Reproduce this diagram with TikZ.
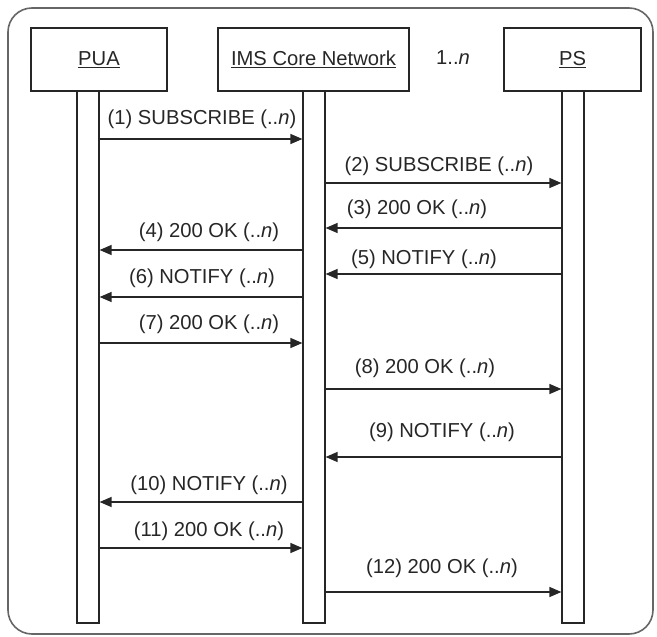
\documentclass[tikz,border=0pt]{standalone}
\usepackage{fontspec}
\setmainfont{Liberation Sans}
\usetikzlibrary{arrows.meta}
\begin{document}
\begin{tikzpicture}[x=1pt,y=-1pt,
  frame/.style={draw=black!60, line width=1.6pt, rounded corners=24pt},
  actor/.style={draw=black!85, line width=1.2pt, minimum height=63pt, inner sep=0pt,
    font=\fontsize{20.2}{23}\selectfont, text=black!85},
  bar/.style={draw=black!85, line width=1.2pt, fill=white, minimum width=22pt,
    minimum height=532pt, inner sep=0pt},
  msg/.style={draw=black!85, line width=1.3pt, -{Triangle[length=12pt,width=10pt]}},
  lbl/.style={font=\fontsize{20.2}{23}\selectfont, text=black!85, inner sep=0pt}
]
\useasboundingbox (0,0) rectangle (657,637);
\draw[frame] (8,8) rectangle (653,634);

% lifeline bars
\node[bar] (puabar) at (88,357) {};
\node[bar] (imsbar) at (314,357) {};
\node[bar] (psbar)  at (573,357) {};

% participants
\node[actor, minimum width=136pt] (pua) at (99,59.5) {\underline{PUA}};
\node[actor, minimum width=191pt] (ims) at (313.5,59.5) {\underline{IMS Core Network}};
\node[actor, minimum width=137pt] (ps)  at (572.5,59.5) {\underline{PS}};
\node[lbl] (mult) at (453,58) {1..\textit{n}};

% message rows
\foreach \name/\y in {m1/139, m2/183, m3/228, m4/250, m5/274, m6/297, m7/343,
                      m8/389, m9/457, m10/502, m11/548, m12/592} {
  \coordinate (\name) at (0,\y);
}

\draw[msg] (puabar.east |- m1) -- (imsbar.west |- m1);
\draw[msg] (imsbar.east |- m2) -- (psbar.west |- m2);
\draw[msg] (psbar.west |- m3) -- (imsbar.east |- m3);
\draw[msg] (imsbar.west |- m4) -- (puabar.east |- m4);
\draw[msg] (psbar.west |- m5) -- (imsbar.east |- m5);
\draw[msg] (imsbar.west |- m6) -- (puabar.east |- m6);
\draw[msg] (puabar.east |- m7) -- (imsbar.west |- m7);
\draw[msg] (imsbar.east |- m8) -- (psbar.west |- m8);
\draw[msg] (psbar.west |- m9) -- (imsbar.east |- m9);
\draw[msg] (imsbar.west |- m10) -- (puabar.east |- m10);
\draw[msg] (puabar.east |- m11) -- (imsbar.west |- m11);
\draw[msg] (imsbar.east |- m12) -- (psbar.west |- m12);

% message labels
\node[lbl] (l1)  at (202,119) {(1) SUBSCRIBE (..\textit{n})};
\node[lbl] (l2)  at (439,166) {(2) SUBSCRIBE (..\textit{n})};
\node[lbl] (l3)  at (417,209) {(3) 200 OK (..\textit{n})};
\node[lbl] (l4)  at (209,232) {(4) 200 OK (..\textit{n})};
\node[lbl] (l5)  at (424,259) {(5) NOTIFY (..\textit{n})};
\node[lbl] (l6)  at (202,278) {(6) NOTIFY (..\textit{n})};
\node[lbl] (l7)  at (209,324) {(7) 200 OK (..\textit{n})};
\node[lbl] (l8)  at (425,368) {(8) 200 OK (..\textit{n})};
\node[lbl] (l9)  at (442,432) {(9) NOTIFY (..\textit{n})};
\node[lbl] (l10) at (209,485) {(10) NOTIFY (..\textit{n})};
\node[lbl] (l11) at (209,531) {(11) 200 OK (..\textit{n})};
\node[lbl] (l12) at (442,568) {(12) 200 OK (..\textit{n})};
\end{tikzpicture}
\end{document}
